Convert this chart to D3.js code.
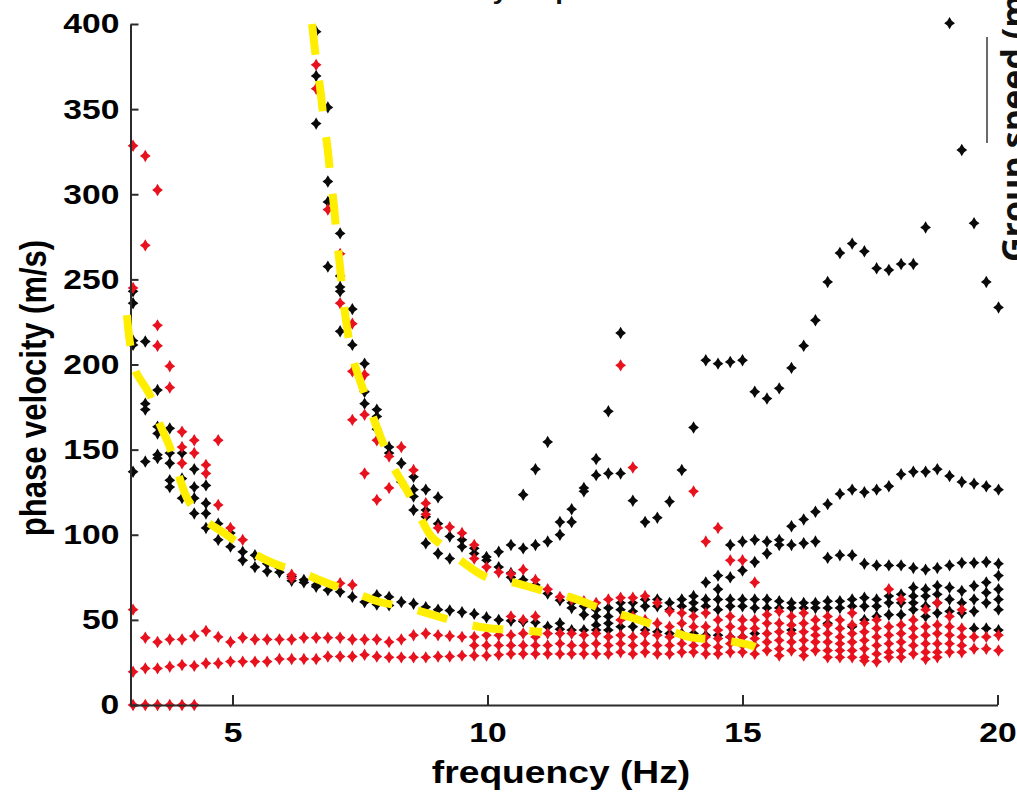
<!DOCTYPE html>
<html>
<head>
<meta charset="utf-8">
<script src="https://cdn.jsdelivr.net/npm/d3@7"></script>
<style>
  html, body { margin: 0; padding: 0; background: #fff; overflow: hidden; }
  svg { display: block; }
</style>
</head>
<body>
<svg id="chart" width="1017" height="798"></svg>
<script>
// Frequency samples of the dispersion picks (Hz)
const freqHz = [
  3.05, 3.29, 3.53, 3.77, 4.01, 4.25, 4.48, 4.72, 4.96, 5.20,
  5.44, 5.68, 5.92, 6.16, 6.40, 6.64, 6.87, 7.11, 7.35, 7.59,
  7.83, 8.07, 8.31, 8.55, 8.79, 9.03, 9.26, 9.50, 9.74, 9.98,
  10.22, 10.46, 10.70, 10.94, 11.18, 11.42, 11.65, 11.89, 12.13, 12.37,
  12.61, 12.85, 13.09, 13.33, 13.57, 13.81, 14.04, 14.28, 14.52, 14.76,
  15.00, 15.24, 15.48, 15.72, 15.96, 16.20, 16.43, 16.67, 16.91, 17.15,
  17.39, 17.63, 17.87, 18.11, 18.35, 18.59, 18.82, 19.06, 19.30, 19.54,
  19.78, 20.02
];

// Phase velocities picked at each frequency, black set (m/s)
const blackVelocity = [
  [243, 236, 214, 211.5, 137],
  [213.5, 177, 173.5, 143],
  [185, 163.5, 159.5, 147, 145],
  [162.5, 148, 142, 132, 128],
  [148, 133, 121.5],
  [138.5, 128, 121.5, 112.5],
  [129, 118.5, 112.5, 104],
  [106.5, 97],
  [101, 93],
  [90, 85],
  [88, 81],
  [83, 78.5],
  [80.5, 78],
  [75.5, 73],
  [73.5, 72],
  [395.5, 369.5, 341.5, 70.5, 69.5],
  [351, 307.5, 295.5, 257.5, 67.5],
  [277, 252, 245.5, 243, 219.5, 66.5],
  [232.5, 211.5, 63.5],
  [200.5, 184, 177, 60.5],
  [173.5, 169.5, 162, 64.5, 59],
  [151.5, 148, 63.5, 58.5],
  [142, 131, 60.5],
  [134, 126.5, 122.5, 114.5, 59.5],
  [126.5, 114.5, 110.5, 95, 57.5],
  [122, 106.5, 89, 56],
  [99, 86, 55.5],
  [97, 93, 54.5],
  [92, 89, 53.5],
  [87, 85, 51.5],
  [90, 81, 50],
  [94, 77.5, 75, 49.5],
  [123.5, 92, 73.5, 49],
  [138.5, 94, 70.5, 48.5],
  [154.5, 96, 65.5, 46],
  [107.5, 100, 61.5, 48, 44.5],
  [115, 107.5, 60, 57, 44],
  [127.5, 125.5, 58, 53, 44],
  [144.5, 135, 56, 52, 47, 44],
  [172.5, 136, 57, 52, 48, 44],
  [218.5, 136, 60, 56, 46],
  [120, 60, 55, 46],
  [107.5, 62, 58, 44],
  [110, 62, 58, 43],
  [119.5, 60, 56, 42],
  [138, 62, 58, 42],
  [163, 64, 60, 56, 42],
  [202.5, 72, 62, 58, 41],
  [200.5, 76, 68, 62, 56, 41],
  [201.5, 94, 75, 62, 58, 40],
  [202.5, 96, 79, 62, 58, 40],
  [184, 97, 84, 62, 57, 42],
  [180, 96, 89, 62, 57],
  [186, 97, 94, 61, 57],
  [198, 105, 94, 60, 57, 44],
  [211, 109, 95, 60, 57],
  [226, 113.5, 96, 60, 57],
  [248.5, 118, 86.5, 61, 57, 48],
  [265.5, 124, 88, 61, 57],
  [271, 126.5, 88, 62, 58, 46],
  [266.5, 125, 83, 63, 58, 50],
  [256.5, 126.5, 82, 62, 58, 52],
  [255.5, 128.5, 82, 64, 60, 53],
  [259, 135.5, 82, 65, 60, 53],
  [259, 137, 80.5, 69, 64, 60, 56],
  [280.5, 137, 79.5, 68, 64, 58, 52],
  [138.5, 80.5, 70, 65, 60, 54],
  [400.5, 134.5, 82, 69, 62, 55],
  [326, 131, 83.5, 67, 60, 54],
  [283, 130, 83.5, 70, 62, 55, 45],
  [248.5, 128.5, 84, 72, 66, 60, 45],
  [233.5, 126.5, 83, 76, 68, 62, 56, 44]
];

// Phase velocities picked at each frequency, red set (m/s)
const redVelocity = [
  [328.5, 245, 56, 19.5, 0],
  [322.5, 270, 39.5, 21.5, 0],
  [302.5, 223, 211, 37, 21.5, 0],
  [199, 186.5, 38.5, 22.5, 0],
  [160.5, 151.5, 142, 38.5, 23.5, 0],
  [155.5, 148, 40.5, 23, 0],
  [141, 136, 43.5, 24.5],
  [155.5, 117.5, 40, 24.5],
  [104, 37, 25.5],
  [97, 39.5, 25.5],
  [38.5, 25.5],
  [38.5, 25.5],
  [38.5, 27],
  [76.5, 74.5, 38.5, 27],
  [39.5, 27],
  [376, 362, 39.5, 27],
  [291, 39.5, 28.5],
  [265, 236, 71.5, 39.5, 28.5],
  [224, 196, 167.5, 70.5, 38.5, 28.5],
  [194, 170.5, 136, 38.5, 29.5],
  [155.5, 120.5, 38.5, 28.5],
  [146, 127.5, 37, 28],
  [151.5, 38.5, 28],
  [138, 41, 28],
  [118.5, 112, 42, 28],
  [104, 41, 28.5],
  [104.5, 40.5, 28.5],
  [101, 40, 29],
  [94, 86, 40, 35, 29],
  [81, 41, 35, 29],
  [78, 41, 35, 29.5],
  [77, 52, 41, 35, 30],
  [79.5, 50, 42, 35, 30],
  [73.5, 52, 40, 35, 30],
  [68, 42, 35, 30],
  [63.5, 42, 36, 30],
  [62, 42, 35, 30],
  [61, 41, 35, 30],
  [60, 42, 36, 30],
  [62, 40, 35, 30],
  [199.5, 63, 50, 41, 36, 31],
  [139.5, 63, 52, 40, 35, 30],
  [64, 50, 42, 36, 31],
  [60, 48, 41, 35, 30],
  [55, 46, 40, 35, 30],
  [54, 48, 41, 36, 31],
  [125.5, 52, 46, 39, 35, 31],
  [96, 54, 46, 40, 35, 30],
  [104, 50, 44, 39, 34, 30],
  [85, 52, 46, 40, 36, 31],
  [85, 50, 45, 40, 35, 31],
  [72, 50, 45, 39, 35, 30],
  [53, 48, 42, 37, 32],
  [55, 48, 43, 38, 33, 29],
  [52, 47, 42, 37, 32],
  [54, 48, 43, 38, 33, 29],
  [50, 45, 41, 37, 32],
  [52, 47, 42, 37, 32, 28],
  [50, 45, 40, 36, 32, 28],
  [54, 47, 42, 37, 32, 28],
  [48, 43, 38, 33, 28, 26],
  [50, 45, 40, 35, 30, 25.5],
  [68, 46, 41, 36, 31, 28],
  [62, 47, 42, 37, 32, 28],
  [50, 45, 40, 35, 30],
  [56, 46, 41, 36, 31, 27],
  [60, 47, 42, 36, 31, 28],
  [52, 46, 41, 36, 31],
  [56, 45, 40, 35, 31],
  [40, 33],
  [40, 33],
  [41, 32]
];

// Hand-drawn dispersion curves: [frequency Hz, velocity m/s]
const fundamentalCurve = [
  [2.93, 229], [2.99, 212.6], [3.09, 196.8], [3.38, 182], [3.54, 167.4],
  [3.77, 151.5], [3.93, 136.3], [4.13, 120.4], [4.46, 108.7], [4.89, 99.9],
  [5.30, 91], [5.79, 83.4], [6.32, 78.1], [6.85, 71.7], [7.36, 66.4],
  [7.89, 60.5], [8.38, 57.6], [8.93, 52.9], [9.40, 48.8], [9.99, 45.2],
  [10.48, 44.1], [11.07, 42.9]
];
const higherModeCurve = [
  [6.56, 400], [6.64, 379], [6.72, 362], [6.78, 346], [6.86, 328],
  [6.92, 311], [6.99, 293], [7.04, 276], [7.11, 257], [7.16, 241],
  [7.25, 221], [7.34, 206], [7.53, 188], [7.72, 172], [7.95, 154],
  [8.15, 140], [8.44, 125], [8.68, 110.4], [8.90, 99], [9.10, 94],
  [9.46, 85.2], [10.01, 74.6], [10.54, 71.7], [11.17, 66.4], [11.68, 62.8],
  [12.30, 55.8], [12.79, 51.7], [13.44, 45.2], [13.97, 39.9], [14.60, 38.2],
  [15.15, 35.2], [15.25, 34.1]
];

const xTicks = [5, 10, 15, 20];
const yTicks = [0, 50, 100, 150, 200, 250, 300, 350, 400];

const svg = d3.select('#chart');
const FONT = '"Liberation Sans", Arial, sans-serif';
const STRETCH = 1.2;

const x = d3.scaleLinear().domain([3, 20]).range([130.5, 997.5]);
const y = d3.scaleLinear().domain([0, 400]).range([705, 24]);

// Cut-off title of the panel, only descenders reach the top edge
svg.append('text')
  .attr('transform', `translate(485.5,-1) scale(${STRETCH},1)`)
  .attr('text-anchor', 'middle')
  .attr('font-family', FONT).attr('font-weight', 'bold').attr('font-size', 23)
  .attr('fill', '#111')
  .text('Phase velocity dispersion');

// Neighbouring panel: axis line and label on the right edge
svg.append('line')
  .attr('x1', 987).attr('x2', 987).attr('y1', 37).attr('y2', 143)
  .attr('stroke', '#444').attr('stroke-width', 1.6);
svg.append('text')
  .attr('transform', 'translate(1026,262) rotate(-90)')
  .attr('font-family', '"Open Sans", sans-serif').attr('font-weight', 'bold')
  .attr('font-size', 34).attr('fill', '#111')
  .text('Group speed (m/s)');

// Marker: a diamond with slightly pinched sides
const marker = 'M0,-6.2L2.2,-2.4L5.4,0L2.2,2.4L0,6.2L-2.2,2.4L-5.4,0L-2.2,-2.4Z';

function pointsOf(sets) {
  const out = [];
  sets.forEach((vals, i) => vals.forEach(v => out.push([freqHz[i], v])));
  return out;
}

const gPts = svg.append('g');
gPts.selectAll('path.blk')
  .data(pointsOf(blackVelocity))
  .join('path').attr('class', 'blk')
  .attr('d', marker)
  .attr('transform', d => `translate(${x(d[0])},${y(d[1])})`)
  .attr('fill', '#0a0a0a');

gPts.selectAll('path.red')
  .data(pointsOf(redVelocity))
  .join('path').attr('class', 'red')
  .attr('d', marker)
  .attr('transform', d => `translate(${x(d[0])},${y(d[1])})`)
  .attr('fill', '#e8121e');

// Axes: MATLAB style, ticks pointing inward, no box
const axisColor = '#2b2b2b';
const gx = svg.append('g').attr('transform', `translate(0,${y(0)})`)
  .call(d3.axisBottom(x).tickValues(xTicks).tickSize(-10).tickSizeOuter(0).tickPadding(17));
const gy = svg.append('g').attr('transform', `translate(${x(3)},0)`)
  .call(d3.axisLeft(y).tickValues(yTicks).tickSize(-8).tickSizeOuter(0).tickPadding(10));

[gx, gy].forEach(g => {
  g.select('.domain').attr('stroke', axisColor).attr('stroke-width', 2);
  g.selectAll('.tick line').attr('stroke', axisColor).attr('stroke-width', 2);
  g.selectAll('.tick text')
    .attr('font-family', FONT).attr('font-weight', 'bold').attr('font-size', 28)
    .attr('fill', '#000');
});
gx.selectAll('.tick text').attr('transform', `scale(${STRETCH},1)`);
gy.selectAll('.tick text').attr('transform', `scale(${STRETCH},1)`)
  .attr('x', -10 / STRETCH - 1);

// Axis titles
svg.append('text')
  .attr('transform', `translate(561,783) scale(${STRETCH},1)`)
  .attr('text-anchor', 'middle')
  .attr('font-family', FONT).attr('font-weight', 'bold').attr('font-size', 31)
  .text('frequency (Hz)');
svg.append('text')
  .attr('transform', `translate(46,388) scale(${STRETCH},1) rotate(-90)`)
  .attr('text-anchor', 'middle')
  .attr('font-family', FONT).attr('font-weight', 'bold').attr('font-size', 31)
  .text('phase velocity (m/s)');

// Dashed yellow interpretation curves on top of the picks
const line = d3.line().x(d => x(d[0])).y(d => y(d[1])).curve(d3.curveCatmullRom);
[fundamentalCurve, higherModeCurve].forEach(c => {
  svg.append('path')
    .attr('d', line(c))
    .attr('fill', 'none')
    .attr('stroke', '#ffee00')
    .attr('stroke-width', 8)
    .attr('stroke-dasharray', '31 26');
});
</script>
</body>
</html>
